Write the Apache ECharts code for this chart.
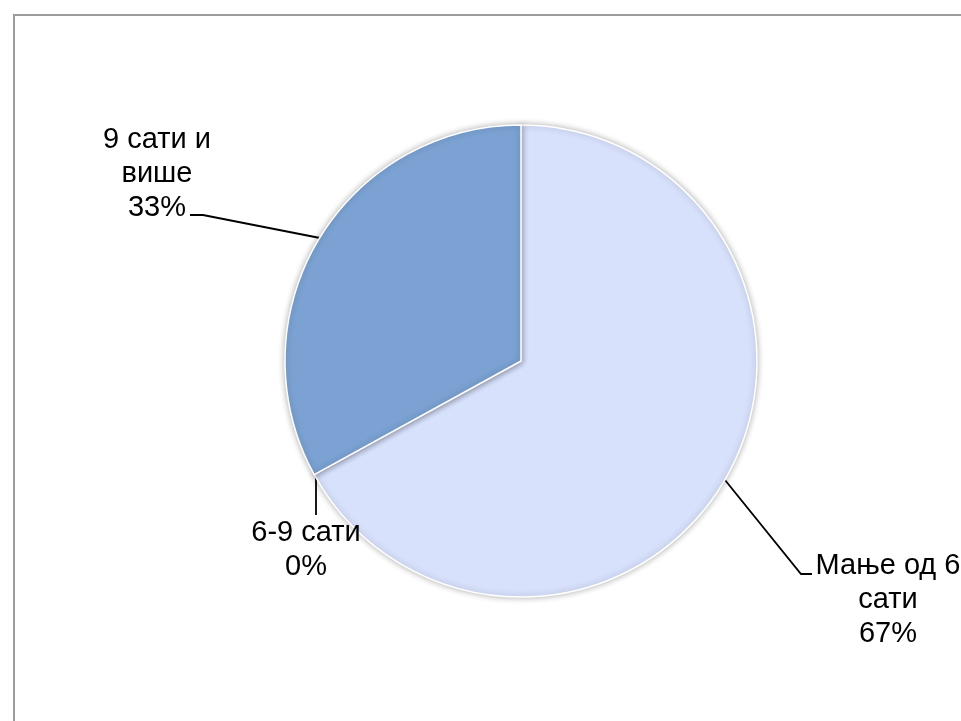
<!DOCTYPE html>
<html>
<head>
<meta charset="utf-8">
<style>
  html, body { margin: 0; padding: 0; background: #fff; }
  #main { width: 961px; height: 721px; }
</style>
<script src="https://cdn.jsdelivr.net/npm/echarts@6/dist/echarts.min.js"></script>
</head>
<body>
<div id="main"></div>
<script>
// категорије и вредности (проценти)
const categories = ['Мање од 6\nсати', '6-9 сати', '9 сати и\nвише']
const values = [67, 0, 33]
const colors = ['#d8e1fc', '#7ba2d3', '#7ba2d3']

// положај натписа и водећих линија
const labelSpots = [
  { x: 888, y: 600, line: [[725, 480], [801, 574], [812, 574]] },
  { x: 306, y: 550, line: [[316, 471], [316, 515]] },
  { x: 157, y: 174, line: [[320, 238], [203, 215], [190, 215]] }
]

const chart = echarts.init(document.getElementById('main'))
chart.setOption({
  backgroundColor: '#fff',
  animation: false,
  graphic: [{
    type: 'rect',
    shape: { x: 14, y: 15, width: 1000, height: 800 },
    style: { fill: 'none', stroke: '#9c9c9c', lineWidth: 2 },
    silent: true
  }],
  series: [{
    type: 'pie',
    center: [521, 361],
    radius: 236,
    startAngle: 90,
    clockwise: true,
    avoidLabelOverlap: false,
    stillShowZeroSum: true,
    data: categories.map((c, i) => ({
      name: c,
      value: values[i],
      itemStyle: { color: colors[i] }
    })),
    itemStyle: {
      borderColor: '#fff',
      borderWidth: 1.5,
      shadowBlur: 6,
      shadowColor: 'rgba(0,0,0,0.3)'
    },
    label: {
      show: true,
      formatter: '{b}\n{d}%',
      fontFamily: 'Liberation Sans, Arial, sans-serif',
      fontSize: 29,
      lineHeight: 34,
      color: '#000',
      align: 'center'
    },
    labelLine: {
      show: true,
      lineStyle: { color: '#000', width: 1.8 }
    },
    labelLayout: function (p) {
      const s = labelSpots[p.dataIndex]
      return {
        x: s.x,
        y: s.y,
        align: 'center',
        verticalAlign: 'middle',
        labelLinePoints: s.line
      }
    }
  }]
})
</script>
</body>
</html>
